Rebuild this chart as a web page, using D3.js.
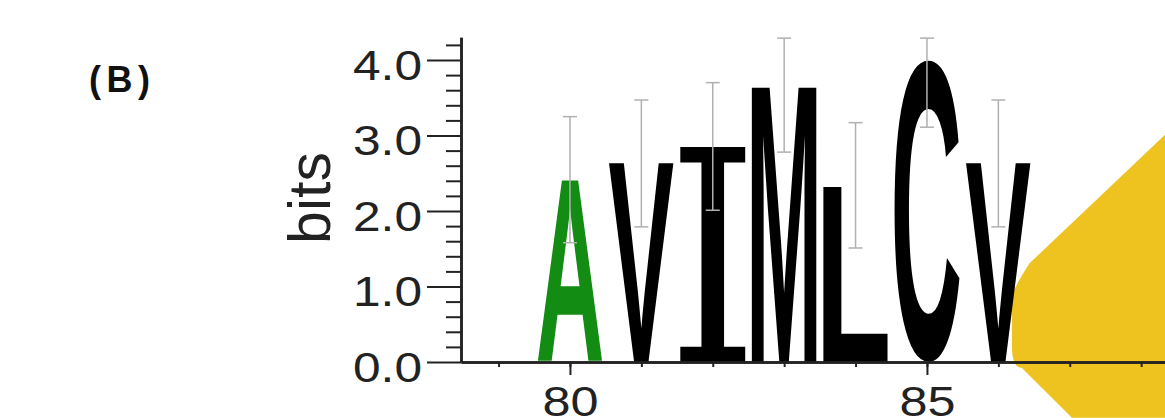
<!DOCTYPE html>
<html><head><meta charset="utf-8">
<script src="https://cdn.jsdelivr.net/npm/d3@7"></script>
<style>html,body{margin:0;padding:0;background:#fff;overflow:hidden}</style>
</head><body>
<svg id="chart" width="1165" height="418"></svg>
<script>
// ---- data ----
const positions = [80, 81, 82, 83, 84, 85, 86];
const letters   = ["A", "V", "I", "M", "L", "C", "V"];
const heights   = [2.41, 2.64, 2.87, 3.67, 2.32, 4.00, 2.64];
const errLow    = [1.58, 1.79, 2.01, 2.78, 1.51, 3.11, 1.79];
const errHigh   = [3.25, 3.47, 3.70, 4.29, 3.17, 4.29, 3.47];
const yMajorTicks = [0, 1, 2, 3, 4];
const yMinorTicks = d3.range(0, 21.5).map(i => +(i * 0.2).toFixed(1)).filter(v => v % 1 !== 0);
const xMinorTicks = [79, 80, 81, 82, 83, 84, 85, 86, 87, 88];
const xLabelTicks = [80, 85];
const panelLabel = "(B)";
const yTitle = "bits";
// decorative yellow shape, in (position, bits) units
const bannerShape = [[88.4, 3.07], [86.44, 1.31], [86.19, 0.95], [86.19, 0.22], [86.33, -0.08], [87.03, -0.74], [88.4, -0.74]];

// ---- layout ----
const W = 1165, H = 418;
const axisX = 461, baseY = 362, bitPx = 75.5;
const svg = d3.select("#chart");

const x = d3.scaleLinear().domain([78.474, 88.334]).range([axisX, W]);
const y = d3.scaleLinear().domain([0, 4.3]).range([baseY, baseY - 4.3 * bitPx]);
const step = x(1) - x(0);
const colorOf = c => (c === "A" ? "#128c12" : "#000");
const fontOf = c => (c === "I" ? { fam: "'DejaVu Serif'", wt: "normal" } : { fam: "'Liberation Sans'", wt: "bold" });

// decorative shape
{
  const p = bannerShape.map(([a, b]) => [x(a), y(b)]);
  const path = d3.path();
  path.moveTo(p[0][0], p[0][1]);
  path.lineTo(p[1][0], p[1][1]);
  path.quadraticCurveTo(p[2][0], p[2][1], p[2][0], p[2][1] + 8);
  path.lineTo(p[3][0], p[3][1]);
  path.quadraticCurveTo(p[3][0], p[4][1], p[4][0], p[4][1]);
  path.lineTo(p[5][0], p[5][1]);
  path.lineTo(p[6][0], p[6][1]);
  path.closePath();
  svg.append("path").attr("d", path.toString()).attr("fill", "#eec21f");
}

// letters
const ctx = document.createElement("canvas").getContext("2d");
const gL = svg.append("g");
positions.forEach((pos, i) => {
  const ch = letters[i];
  const f = fontOf(ch);
  ctx.font = `${f.wt} 200px ${f.fam}`;
  const m = ctx.measureText(ch);
  const L = m.actualBoundingBoxLeft, R = m.actualBoundingBoxRight;
  const A = m.actualBoundingBoxAscent, D = m.actualBoundingBoxDescent;
  const lw = step * 0.91;
  const x0 = x(pos) - lw / 2;
  const yTop = y(heights[i]), yBot = y(0);
  const sx = lw / (L + R), sy = (yBot - yTop) / (A + D);
  gL.append("text").text(ch)
    .attr("font-family", f.fam).attr("font-weight", f.wt).attr("font-size", 200)
    .attr("fill", colorOf(ch))
    .attr("transform", `translate(${x0},${yTop}) scale(${sx},${sy}) translate(${L},${A})`);
});

// error bars
const gE = svg.append("g").attr("stroke", "#b0b0b0").attr("stroke-width", 1.5).attr("fill", "none");
positions.forEach((pos, i) => {
  const cx = x(pos);
  gE.append("line").attr("x1", cx).attr("x2", cx).attr("y1", y(errLow[i])).attr("y2", y(errHigh[i]));
  [errLow[i], errHigh[i]].forEach(v => {
    gE.append("line").attr("x1", cx - 7).attr("x2", cx + 7).attr("y1", y(v)).attr("y2", y(v));
  });
});

// y axis
const yAxMinor = svg.append("g").attr("transform", `translate(${axisX},0)`)
  .call(d3.axisLeft(y).tickValues(yMinorTicks).tickSize(15).tickSizeOuter(0).tickFormat(""));
const yAxMajor = svg.append("g").attr("transform", `translate(${axisX},0)`)
  .call(d3.axisLeft(y).tickValues(yMajorTicks).tickSize(34).tickSizeOuter(0).tickPadding(5).tickFormat(d3.format(".1f")));
[yAxMinor, yAxMajor].forEach(g => {
  g.selectAll("line").attr("stroke", "#222").attr("stroke-width", 2);
  g.select(".domain").attr("stroke", "#222").attr("stroke-width", 2.5);
});
yAxMajor.selectAll("text")
  .attr("font-family", "'Liberation Sans', Arial, sans-serif").attr("font-size", 43)
  .attr("fill", "#222").attr("dy", "0.45em")
  .attr("textLength", 69).attr("lengthAdjust", "spacingAndGlyphs");

// x axis
const xAxMinor = svg.append("g").attr("transform", `translate(0,${baseY})`)
  .call(d3.axisBottom(x).tickValues(xMinorTicks).tickSize(5).tickSizeOuter(0).tickFormat(""));
const xAxMajor = svg.append("g").attr("transform", `translate(0,${baseY})`)
  .call(d3.axisBottom(x).tickValues(xLabelTicks).tickSize(13).tickSizeOuter(0).tickPadding(10).tickFormat(d3.format("d")));
[xAxMinor, xAxMajor].forEach(g => {
  g.selectAll("line").attr("stroke", "#222").attr("stroke-width", 2);
  g.select(".domain").attr("stroke", "#222").attr("stroke-width", 2.5);
});
xAxMajor.selectAll("text")
  .attr("font-family", "'Liberation Sans', Arial, sans-serif").attr("font-size", 43)
  .attr("fill", "#222")
  .attr("textLength", 56).attr("lengthAdjust", "spacingAndGlyphs");

// titles
svg.append("text").text(yTitle)
  .attr("transform", `translate(330,198) rotate(-90)`)
  .attr("text-anchor", "middle")
  .attr("font-family", "'Liberation Sans', Arial, sans-serif").attr("font-size", 59).attr("fill", "#222");

svg.append("text").text(panelLabel)
  .attr("x", 89).attr("y", 92)
  .attr("font-family", "'Liberation Sans', Arial, sans-serif").attr("font-weight", "bold")
  .attr("font-size", 36).attr("fill", "#111")
  .attr("textLength", 61).attr("lengthAdjust", "spacing");
</script>
</body></html>
